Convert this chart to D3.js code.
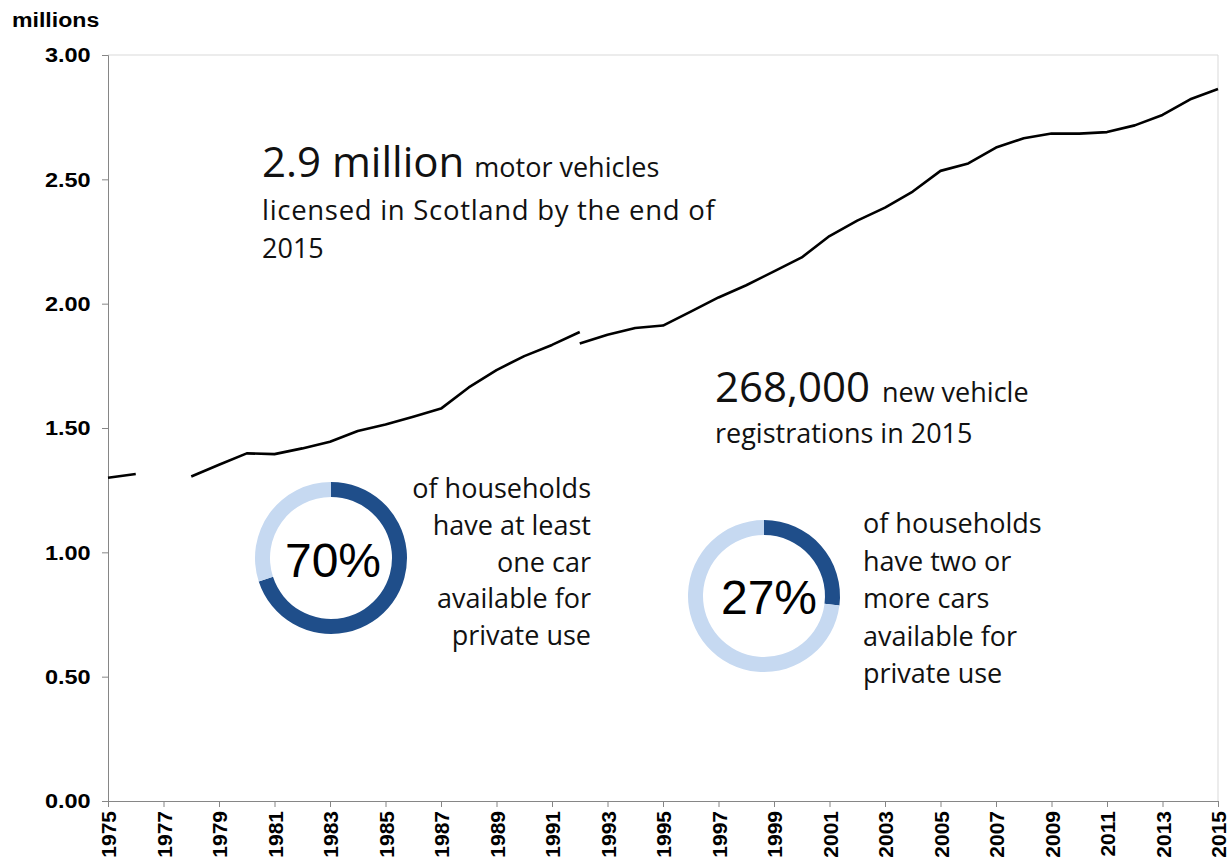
<!DOCTYPE html>
<html>
<head>
<meta charset="utf-8">
<script src="https://cdn.jsdelivr.net/npm/d3@7"></script>
<style>
  html, body { margin: 0; padding: 0; background: #fff; }
  svg { display: block; }
</style>
</head>
<body>
<svg id="chart" width="1229" height="861"></svg>
<script>
// ---- Data ----
const yearsOld = [1975,1976,1977,1978,1979,1980,1981,1982,1983,1984,1985,1986,1987,1988,1989,1990,1991,1992];
const vehiclesOld = [1.300,1.315,null,1.305,1.352,1.398,1.395,1.418,1.445,1.488,1.514,1.545,1.578,1.663,1.733,1.789,1.834,1.886];
const yearsNew = [1992,1993,1994,1995,1996,1997,1998,1999,2000,2001,2002,2003,2004,2005,2006,2007,2008,2009,2010,2011,2012,2013,2014,2015];
const vehiclesNew = [1.840,1.875,1.902,1.912,1.968,2.025,2.074,2.130,2.186,2.272,2.334,2.386,2.451,2.534,2.564,2.628,2.665,2.684,2.684,2.690,2.717,2.759,2.822,2.863];
const yTicks = [0, 0.5, 1.0, 1.5, 2.0, 2.5, 3.0];
const xTicks = [1975,1977,1979,1981,1983,1985,1987,1989,1991,1993,1995,1997,1999,2001,2003,2005,2007,2009,2011,2013,2015];
const donutValues1 = [70, 30];
const donutValues2 = [27, 73];
const donutLabels = ["70%", "27%"];
const unitLabel = "millions";
const headline1 = ["2.9 million", "motor vehicles", "licensed in Scotland by the end of", "2015"];
const headline2 = ["268,000", "new vehicle", "registrations in 2015"];
const donutText1 = ["of households", "have at least", "one car", "available for", "private use"];
const donutText2 = ["of households", "have two or", "more cars", "available for", "private use"];

// ---- Layout ----
const svg = d3.select("#chart");
const margin = {top: 55, right: 11, bottom: 60, left: 108};
const W = 1229 - margin.left - margin.right;
const H = 861 - margin.top - margin.bottom;
const g = svg.append("g").attr("transform", `translate(${margin.left},${margin.top})`);

const x = d3.scaleLinear().domain([1975, 2015]).range([0, W]);
const y = d3.scaleLinear().domain([0, 3]).range([H, 0]);

const DARK = "#1f4e8a", LIGHT = "#c6d9f1";
const tickFont = "'Liberation Sans', Arial, sans-serif";
const noteFont = "'Open Sans', sans-serif";

// plot-area border (top and right)
g.append("line").attr("x1", 0).attr("x2", W).attr("y1", 0).attr("y2", 0)
  .attr("stroke", "#d9d9d9").attr("stroke-width", 1);
g.append("line").attr("x1", W).attr("x2", W).attr("y1", 0).attr("y2", H)
  .attr("stroke", "#d9d9d9").attr("stroke-width", 1);

// y axis
const yAxis = g.append("g").call(d3.axisLeft(y).tickValues(yTicks).tickFormat(d3.format(".2f")).tickSizeOuter(0).tickSize(6).tickPadding(12));
yAxis.select(".domain").attr("stroke", "#868686");
yAxis.selectAll(".tick line").attr("stroke", "#868686");
yAxis.selectAll("text").attr("font-family", tickFont).attr("font-weight", "bold").attr("font-size", 21).attr("fill", "#000")
  .attr("x", -15.5).attr("transform", "scale(1.12,1)");

// x axis
const xAxis = g.append("g").attr("transform", `translate(0,${H})`)
  .call(d3.axisBottom(x).tickValues(xTicks).tickFormat(d3.format("d")).tickSizeOuter(0).tickSize(6));
xAxis.select(".domain").attr("stroke", "#868686");
xAxis.selectAll(".tick line").attr("stroke", "#868686");
xAxis.selectAll("text")
  .attr("font-family", tickFont).attr("font-weight", "bold").attr("font-size", 21).attr("fill", "#000")
  .attr("text-anchor", "end")
  .attr("transform", "rotate(-90)")
  .attr("x", -10).attr("y", 0).attr("dy", "0.36em");

// unit label
svg.append("text").attr("transform", "translate(12,27) scale(1.1,1)").text(unitLabel)
  .attr("font-family", tickFont).attr("font-weight", "bold").attr("font-size", 21).attr("fill", "#000");

// lines
const line = d3.line().defined(d => d[1] != null).x(d => x(d[0])).y(d => y(d[1]));
g.append("path").datum(yearsOld.map((yr, i) => [yr, vehiclesOld[i]]))
  .attr("d", line).attr("fill", "none").attr("stroke", "#000").attr("stroke-width", 2.6).attr("stroke-linejoin", "round");
g.append("path").datum(yearsNew.map((yr, i) => [yr, vehiclesNew[i]]))
  .attr("d", line).attr("fill", "none").attr("stroke", "#000").attr("stroke-width", 2.6).attr("stroke-linejoin", "round");

// headline 1
const h1 = svg.append("text").attr("x", 262).attr("y", 177).attr("font-family", noteFont).attr("fill", "#111");
h1.append("tspan").attr("font-size", 42).text(headline1[0]);
h1.append("tspan").attr("font-size", 27).attr("dx", 10).text(headline1[1]);
svg.append("text").attr("x", 262).attr("y", 220).attr("font-family", noteFont).attr("font-size", 27.5)
  .attr("letter-spacing", 0.7).attr("fill", "#111").text(headline1[2]);
svg.append("text").attr("x", 262).attr("y", 258).attr("font-family", noteFont).attr("font-size", 27).attr("fill", "#111").text(headline1[3]);

// headline 2
const h2 = svg.append("text").attr("x", 715).attr("y", 402).attr("font-family", noteFont).attr("fill", "#111");
h2.append("tspan").attr("font-size", 42).text(headline2[0]);
h2.append("tspan").attr("font-size", 27).attr("dx", 12).text(headline2[1]);
svg.append("text").attr("x", 715).attr("y", 443).attr("font-family", noteFont).attr("font-size", 27).attr("fill", "#111").text(headline2[2]);

// donuts
const pie = d3.pie().sort(null).value(d => d);
const arc = d3.arc().innerRadius(61).outerRadius(76);
function donut(cx, cy, vals, label, labelDx, labelDy) {
  const dg = svg.append("g").attr("transform", `translate(${cx},${cy})`);
  dg.selectAll("path").data(pie(vals)).join("path")
    .attr("d", arc).attr("fill", (d, i) => i === 0 ? DARK : LIGHT);
  dg.append("text").attr("x", labelDx).attr("y", labelDy).attr("text-anchor", "middle")
    .attr("font-family", "'Liberation Sans', Arial, sans-serif").attr("font-size", 48).attr("fill", "#000")
    .text(label);
}
donut(331, 558, donutValues1, donutLabels[0], 2, 19);
donut(764, 596, donutValues2, donutLabels[1], 5, 18);

// donut notes
const t1 = [498, 535, 572, 608, 645];
donutText1.forEach((s, i) => svg.append("text").attr("x", 591).attr("y", t1[i]).attr("text-anchor", "end")
  .attr("font-family", noteFont).attr("font-size", 27).attr("fill", "#111").text(s));
const t2 = [533, 571, 608, 646, 683];
donutText2.forEach((s, i) => svg.append("text").attr("x", 863).attr("y", t2[i])
  .attr("font-family", noteFont).attr("font-size", 27).attr("fill", "#111").text(s));
</script>
</body>
</html>
